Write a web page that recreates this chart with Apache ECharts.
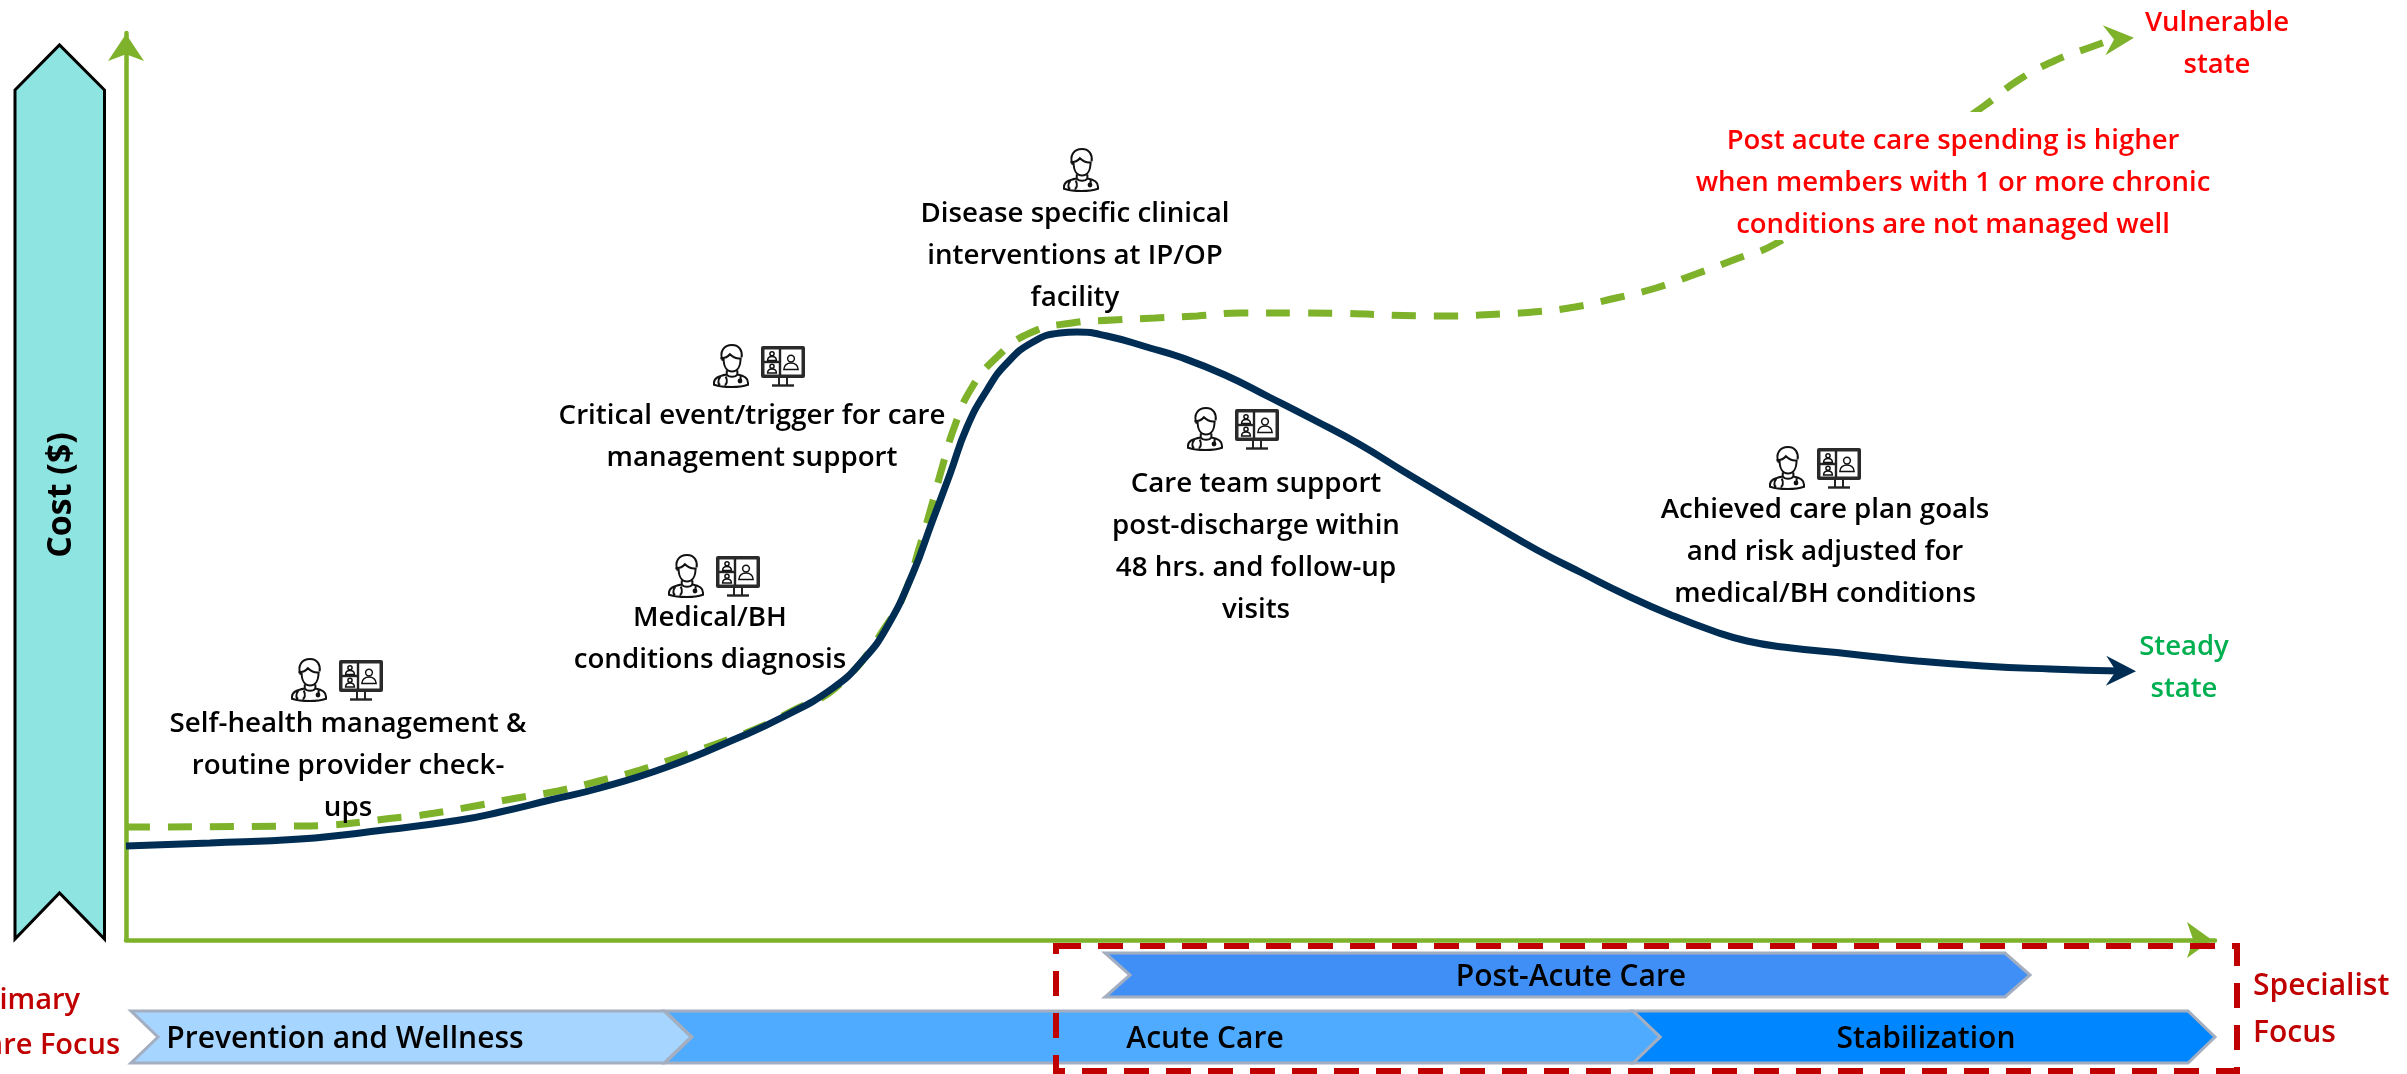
<!DOCTYPE html>
<html>
<head>
<meta charset="utf-8">
<title>Cost of care over the member journey</title>
<script src="https://cdn.jsdelivr.net/npm/echarts@6/dist/echarts.min.js"></script>
<style>
html,body{margin:0;padding:0;background:#fff;overflow:hidden}
#chart{width:2407px;height:1074px}
</style>
</head>
<body>
<div id="chart"></div>
<script>
// Cost curves: [time, cost] in axis units
const managedCost = [[0,94],[84,97],[174,101],[258,110],[334,120],[374,128],[424,140],[474,152],[541,173],[607,200],[657,223],[707,252],[737,280],[761,313],[787,367],[806,418],[824,466],[841,513],[861,550],[881,577],[907,598],[934,607],[951,608],[981,604],[1024,592],[1054,583],[1099,565],[1143,543],[1188,520],[1233,496],[1277,469],[1322,442],[1366,416],[1411,390],[1456,367],[1500,345],[1545,325],[1590,308],[1621,299],[1657,293],[1724,286],[1791,279],[1857,274],[1924,271],[1994,269]];
const unmanagedCost = [[0,113],[174,114],[279,123],[309,127],[349,134],[391,142],[432,149],[473,159],[514,170],[553,183],[593,197],[632,212],[664,228],[714,256],[764,320],[781,353],[792,388],[805,432],[816,472],[828,512],[845,551],[871,583],[904,607],[946,617],[987,620],[1029,622],[1071,624],[1114,627],[1179,627],[1317,624],[1374,626],[1407,628],[1449,633],[1490,642],[1530,652],[1570,666],[1610,681],[1649,696],[1754,762],[1858,834],[1891,859],[1928,879],[1968,894],[1991,902]];

// Care phases along the time axis, in drawing order
const phaseNames = ['Stabilization', 'Acute Care', 'Prevention and Wellness', 'Post-Acute Care'];
const phaseStart = [1507, 539, 5, 979];
const phaseEnd = [2089, 1534, 565, 1904];
const phaseLabelAt = [1800, 1079, 219, 1445];

// Annotations along the curve
const stepTexts = [
  'Self-health management &\nroutine provider check-\nups',
  'Medical/BH\nconditions diagnosis',
  'Critical event/trigger for care\nmanagement support',
  'Disease specific clinical\ninterventions at IP/OP\nfacility',
  'Care team support\npost-discharge within\n48 hrs. and follow-up\nvisits',
  'Achieved care plan goals\nand risk adjusted for\nmedical/BH conditions'
];
const axisTitle = 'Cost ($)';
const vulnerableText = 'Vulnerable\nstate';
const steadyText = 'Steady\nstate';
const spendingNote = 'Post acute care spending is higher\nwhen members with 1 or more chronic\nconditions are not managed well';
const primaryLines = ['Primary', 'Care Focus'];
const specialistText = 'Specialist\nFocus';

const FONT = '"Open Sans", "Noto Sans", sans-serif';
const GREEN = '#7EB22B', NAVY = '#002D54', DARK_RED = '#C00000';
const barbArrow = 'path://M0,0 L30,15 L0,30 L10,15 Z';

// Layout of the chevron rows and the care-team icons (axis units)
const phaseFills = ['#0086FF', '#4FABFF', '#A6D5FF', '#408FF7'];
const phaseRowY = [-97, -97, -97, -35];
const phaseHalfH = [26, 26, 26, 22];
const stepIcons = [
  [183, 260, 1], [560, 364, 1], [605, 574, 1], [955, 770, 0], [1079, 511, 1], [1661, 472, 1]
];

const DOCTOR = 'M9,16 C6,8 10,1 18,1 C25,1 28,7 27,13 M7,14 C11,14 14,13 16,10 C19,13 23,15 27,14 ' +
  'M10,14 C10,22 13,27 18,27 C23,27 26,22 26,14 M13,26 L13,30 M23,26 L23,30 ' +
  'M13,30 C7,31 1,33 1,38 L1,40 C10,43 25,43 33,40 L33,38 C33,33 29,31 23,30 M13,30 C15,33 21,33 23,30 ' +
  'M7,32 C4,36 5,40 7,40 M12,32 C14,36 13,40 11,40 M26,31 L26,35';

function person(cx, cy, s) {
  return [
    {type: 'circle', shape: {cx: cx, cy: cy - 3.4 * s, r: 2.6 * s}, style: {fill: 'none', stroke: '#111', lineWidth: 1.5}},
    {type: 'path', shape: {pathData: 'M0,6 C0,2 3,0 6,0 C9,0 12,2 12,6 Z', x: cx - 5.5 * s, y: cy, width: 11 * s, height: 5 * s, layout: 'cover'},
     style: {fill: 'none', stroke: '#111', lineWidth: 1.5}}
  ];
}

function doctorIcon(ox) {
  return [
    {type: 'path', shape: {pathData: DOCTOR, x: ox - 17, y: -21, width: 34, height: 42, layout: 'cover'},
     style: {fill: 'none', stroke: '#111', lineWidth: 2}},
    {type: 'circle', shape: {cx: ox + 9, cy: 15, r: 2.4}, style: {fill: '#111'}}
  ];
}

function monitorIcon(ox) {
  const line = (x1, y1, x2, y2, w) => ({type: 'line', shape: {x1: ox + x1, y1: y1, x2: ox + x2, y2: y2}, style: {stroke: '#222', lineWidth: w}});
  return [
    {type: 'rect', shape: {x: ox - 22, y: -20, width: 44, height: 32, r: 2}, style: {fill: '#2A2A2A'}},
    {type: 'rect', shape: {x: ox - 18.5, y: -16.5, width: 37, height: 25}, style: {fill: '#fff'}},
    line(-3, -17, -3, 9, 2.4), line(-19, -4, -3, -4, 2.4),
    line(-4, 12, -4, 19, 2), line(4, 12, 4, 19, 2), line(-11, 19.5, 11, 19.5, 2.4)
  ].concat(person(ox - 11, -9.5, 0.8), person(ox - 11, 3, 0.8), person(ox + 8, -3, 1.3));
}

const option = {
  animation: false,
  backgroundColor: '#fff',
  textStyle: {fontFamily: FONT},
  grid: {left: 126, right: 192, top: 33, height: 907},
  xAxis: {
    type: 'value', min: 0, max: 2089,
    splitLine: {show: false}, axisTick: {show: false}, axisLabel: {show: false},
    axisLine: {show: true, symbol: ['none', 'arrow'], symbolSize: [27, 25], symbolOffset: [0, -3], lineStyle: {color: GREEN, width: 4.5}}
  },
  yAxis: {
    type: 'value', min: 0, max: 907,
    splitLine: {show: false}, axisTick: {show: false}, axisLabel: {show: false},
    axisLine: {show: true, symbol: ['none', 'arrow'], symbolSize: [27, 27], symbolOffset: [0, -1], lineStyle: {color: GREEN, width: 4.5}}
  },
  series: [
    {
      name: 'Chronic conditions not managed', type: 'line', data: unmanagedCost, smooth: 0.5, symbol: 'none', z: 2,
      lineStyle: {color: GREEN, width: 7, type: [24, 18]}
    },
    {
      name: 'Managed care', type: 'line', data: managedCost, smooth: 0.5, symbol: 'none', z: 3,
      lineStyle: {color: NAVY, width: 7}
    },
    {
      name: 'Vulnerable end', type: 'scatter', z: 4, silent: true,
      data: [[1993, 901]], symbol: barbArrow, symbolSize: 30, symbolRotate: 5, itemStyle: {color: GREEN, opacity: 1}
    },
    {
      name: 'Steady end', type: 'scatter', z: 4, silent: true,
      data: [[1995, 269]], symbol: barbArrow, symbolSize: 30, symbolRotate: -1, itemStyle: {color: NAVY, opacity: 1}
    },
    {
      // Chevron bands for the care phases, hung below the time axis
      name: 'Care phases', type: 'custom', z: 5, silent: true, clip: false,
      coordinateSystem: 'cartesian2d',
      encode: {x: [0, 1], y: 2},
      data: phaseNames.map((n, i) => [phaseStart[i], phaseEnd[i], phaseRowY[i], i]),
      renderItem(params, api) {
        const i = api.value(3);
        const y = api.coord([0, api.value(2)])[1];
        const x0 = api.coord([api.value(0), 0])[0];
        const x1 = api.coord([api.value(1), 0])[0];
        const h = phaseHalfH[i];
        const n = i === 3 ? 25 : 27;
        return {
          type: 'group',
          children: [
            {type: 'polygon', shape: {points: [[x0, y - h], [x1 - n, y - h], [x1, y], [x1 - n, y + h], [x0, y + h], [x0 + n, y]]},
             style: {fill: phaseFills[i], stroke: '#A3AEC0', lineWidth: 3}},
            {type: 'text', style: {text: phaseNames[i], x: api.coord([phaseLabelAt[i], 0])[0], y: y + 2,
              align: 'center', verticalAlign: 'middle', fontFamily: FONT, fontSize: 30, fontWeight: 600, fill: '#000'}}
          ]
        };
      }
    },
    {
      // Care-team icons placed above each annotation
      name: 'Care team icons', type: 'custom', z: 5, silent: true, clip: false,
      coordinateSystem: 'cartesian2d',
      encode: {x: 0, y: 1},
      data: stepIcons,
      renderItem(params, api) {
        const p = api.coord([api.value(0), api.value(1)]);
        const children = doctorIcon(0).concat(api.value(2) ? monitorIcon(52) : []);
        return {type: 'group', x: p[0], y: p[1], children: children};
      }
    }
  ],
  graphic: {
    z: 10,
    elements: [
      // Cost banner to the left of the axis
      {type: 'polygon', z: 10, shape: {points: [[15, 90], [59.5, 45], [104.5, 90], [104.5, 939], [59.5, 893], [15, 939]]},
       style: {fill: '#8EE4E0', stroke: '#000', lineWidth: 3}},
      {type: 'text', z: 11, x: 61, y: 495, rotation: Math.PI / 2,
       style: {text: axisTitle, align: 'center', verticalAlign: 'middle', fontFamily: FONT, fontSize: 34, fontWeight: 700, fill: '#000'}},
      // Backing of the spending note, which sits on top of the dashed curve
      {type: 'rect', z: 10, shape: {x: 1690, y: 112, width: 530, height: 128}, style: {fill: '#fff'}},
      // Specialist focus frame
      {type: 'rect', z: 12, shape: {x: 1056, y: 946, width: 1181, height: 125},
       style: {fill: 'none', stroke: DARK_RED, lineWidth: 6, lineDash: [25, 17]}}
    ].concat(
      [[348, 766], [710, 639], [752, 437.5], [1075, 256], [1256, 547.5], [1825, 552.5]].map((pos, i) => ({
        type: 'text', z: 11, x: pos[0], y: pos[1],
        style: {text: stepTexts[i], align: 'center', verticalAlign: 'middle', lineHeight: 42, fontFamily: FONT, fontSize: 27.7, fontWeight: 600, fill: '#000'}
      })),
      [
        {text: spendingNote, x: 1953, y: 183.5, fill: '#FF0000'},
        {text: vulnerableText, x: 2217, y: 44.5, fill: '#FF0000'},
        {text: steadyText, x: 2184, y: 668, fill: '#00B050'}
      ].map(t => ({
        type: 'text', z: 11, x: t.x, y: t.y,
        style: {text: t.text, align: 'center', verticalAlign: 'middle', lineHeight: 42, fontFamily: FONT, fontSize: 27.5, fontWeight: 600, fill: t.fill}
      })),
      [
        {text: primaryLines[0], x: 80, y: 1001},
        {text: primaryLines[1], x: 120, y: 1046}
      ].map(t => ({
        type: 'text', z: 11, x: t.x, y: t.y,
        style: {text: t.text, align: 'right', verticalAlign: 'middle', fontFamily: FONT, fontSize: 29, fontWeight: 600, fill: DARK_RED}
      })),
      [{type: 'text', z: 11, x: 2253, y: 1010,
        style: {text: specialistText, align: 'left', verticalAlign: 'middle', lineHeight: 47, fontFamily: FONT, fontSize: 30, fontWeight: 600, fill: DARK_RED}}]
    )
  }
};

const chart = echarts.init(document.getElementById('chart'), null, {renderer: 'canvas'});
chart.setOption(option);
</script>
</body>
</html>
